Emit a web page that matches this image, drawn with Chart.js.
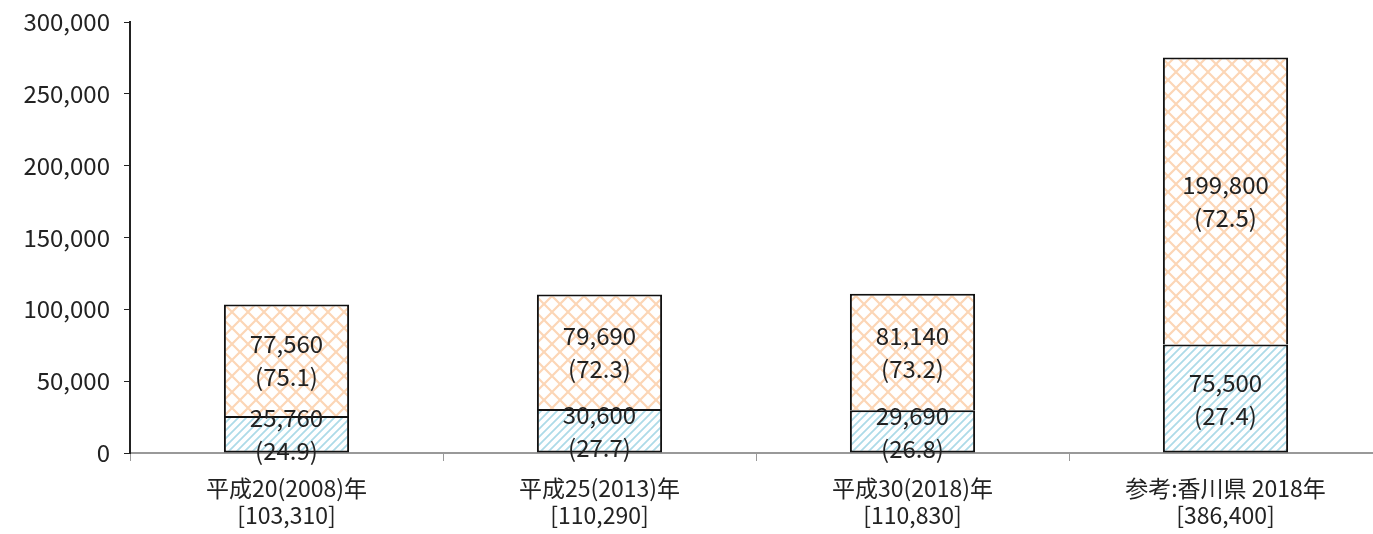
<!DOCTYPE html>
<html>
<head>
<meta charset="utf-8">
<script src="https://cdn.jsdelivr.net/npm/chart.js@4"></script>
<style>
  html, body { margin: 0; padding: 0; background: #fff; overflow: hidden; }
  #wrap { width: 1382px; height: 534px; }
</style>
</head>
<body>
<div id="wrap"><canvas id="myChart"></canvas></div>
<script>
var categories = [
  ["平成20(2008)年", "[103,310]"],
  ["平成25(2013)年", "[110,290]"],
  ["平成30(2018)年", "[110,830]"],
  ["参考:香川県 2018年", "[386,400]"]
];
var lowerValues = [25760, 30600, 29690, 75500];
var lowerShares = ["24.9", "27.7", "26.8", "27.4"];
var upperValues = [77560, 79690, 81140, 199800];
var upperShares = ["75.1", "72.3", "73.2", "72.5"];

var FONT = "'Noto Sans CJK JP', 'Noto Sans', sans-serif";

// hatch patterns
function blueHatch() {
  var c = document.createElement("canvas");
  c.width = 8; c.height = 8;
  var g = c.getContext("2d");
  g.fillStyle = "#fff";
  g.fillRect(0, 0, 8, 8);
  g.strokeStyle = "#addbe8";
  g.lineWidth = 1.8;
  g.beginPath();
  g.moveTo(-2, 10); g.lineTo(10, -2);
  g.moveTo(-2, 2); g.lineTo(2, -2);
  g.moveTo(6, 10); g.lineTo(10, 6);
  g.stroke();
  return g.createPattern(c, "repeat");
}
function orangeCross() {
  var c = document.createElement("canvas");
  c.width = 16; c.height = 16;
  var g = c.getContext("2d");
  g.fillStyle = "#fff";
  g.fillRect(0, 0, 16, 16);
  g.strokeStyle = "#fcd6b6";
  g.lineWidth = 2.2;
  g.beginPath();
  g.moveTo(-2, -2); g.lineTo(18, 18);
  g.moveTo(-2, 18); g.lineTo(18, -2);
  g.stroke();
  return g.createPattern(c, "repeat");
}

var segLabels = {
  id: "segLabels",
  afterDatasetsDraw: function(chart) {
    var ctx = chart.ctx;
    var shares = [lowerShares, upperShares];
    ctx.save();
    ctx.font = "24px " + FONT;
    ctx.fillStyle = "#222";
    ctx.textAlign = "center";
    ctx.textBaseline = "middle";
    chart.data.datasets.forEach(function(ds, di) {
      chart.getDatasetMeta(di).data.forEach(function(bar, i) {
        var mid = (bar.y + bar.base) / 2;
        ctx.fillText(ds.data[i].toLocaleString("en-US"), bar.x, mid - 16);
        ctx.fillText("(" + shares[di][i] + ")", bar.x, mid + 17);
      });
    });
    ctx.restore();
  }
};

new Chart("myChart", {
  type: "bar",
  data: {
    labels: categories,
    datasets: [{
      data: lowerValues,
      backgroundColor: blueHatch(),
      borderColor: "#111",
      borderWidth: 2,
      borderSkipped: false,
      barPercentage: 0.4,
      categoryPercentage: 1
    }, {
      data: upperValues,
      backgroundColor: orangeCross(),
      borderColor: "#111",
      borderWidth: 2,
      borderSkipped: "bottom",
      barPercentage: 0.4,
      categoryPercentage: 1
    }]
  },
  options: {
    responsive: true,
    maintainAspectRatio: false,
    animation: false,
    layout: { padding: { top: 22, right: 0, left: 0, bottom: 0 } },
    plugins: {
      legend: { display: false },
      tooltip: { enabled: false }
    },
    scales: {
      x: {
        stacked: true,
        afterFit: function(s) { s.height = 81; },
        grid: { display: true, drawOnChartArea: false, color: "#999", tickLength: 8, offset: true },
        border: { color: "#999", width: 2 },
        ticks: { color: "#222", font: { family: FONT, size: 23, lineHeight: 1.17 }, padding: 14, maxRotation: 0 }
      },
      y: {
        stacked: true,
        min: 0,
        max: 300000,
        afterFit: function(s) { s.width = 130; s.paddingTop = 0; s.paddingBottom = 0; },
        grid: { display: true, drawOnChartArea: false, color: "#222", tickLength: 6 },
        border: { color: "#222", width: 2 },
        ticks: {
          stepSize: 50000,
          color: "#222",
          padding: 14,
          font: { family: FONT, size: 24 },
          callback: function(v) { return v.toLocaleString("en-US"); }
        }
      }
    }
  },
  plugins: [segLabels]
});
</script>
</body>
</html>
